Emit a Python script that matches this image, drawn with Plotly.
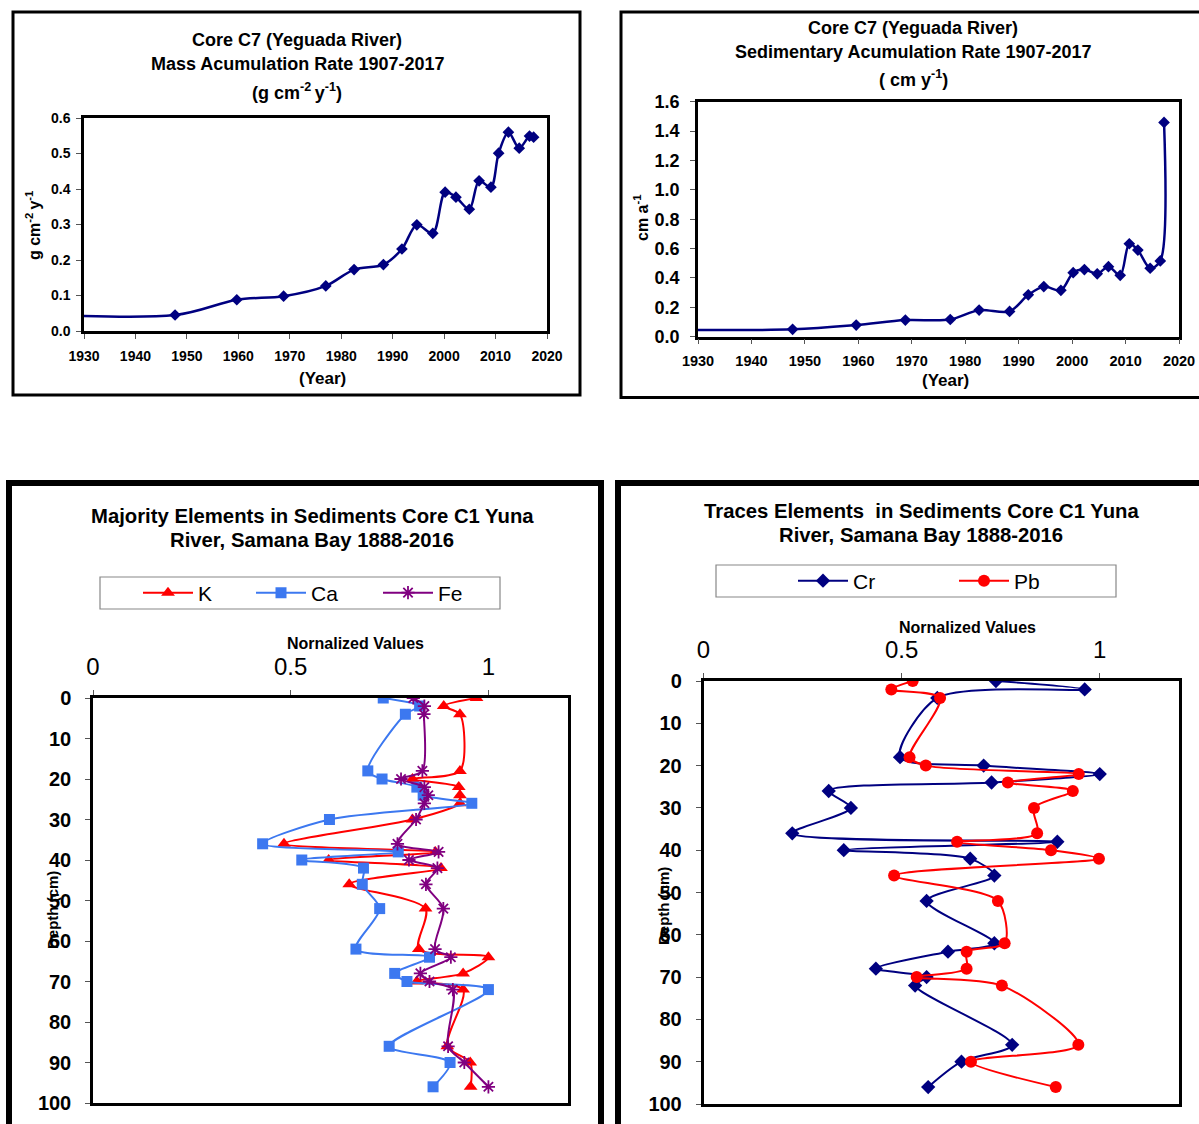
import plotly.graph_objects as go

W, H = 1199, 1124
def px(x): return x / W
def py(y): return 1 - y / H

# ---------------- data ----------------
years_mar = [1907, 1947.7, 1959.7, 1968.8, 1977.0, 1982.5, 1988.2, 1991.8, 1994.7, 1997.8,
             2000.2, 2002.3, 2004.9, 2006.8, 2009.1, 2010.6, 2012.5, 2014.6, 2016.6, 2017.4]
mar = [0.057, 0.045, 0.088, 0.098, 0.127, 0.173, 0.187, 0.231, 0.299, 0.275,
       0.391, 0.377, 0.343, 0.423, 0.405, 0.501, 0.560, 0.515, 0.549, 0.546]

years_sar = [1907, 1947.7, 1959.6, 1968.8, 1977.2, 1982.6, 1988.3, 1991.8, 1994.7, 1997.9,
             2000.2, 2002.3, 2004.7, 2006.8, 2009.0, 2010.7, 2012.3, 2014.6, 2016.5, 2017.2]
sar = [0.052, 0.05, 0.079, 0.113, 0.117, 0.181, 0.172, 0.285, 0.341, 0.316,
       0.436, 0.457, 0.428, 0.477, 0.418, 0.633, 0.590, 0.466, 0.516, 1.459]

depth = [0, 2, 4, 18, 20, 22, 24, 26, 30, 36, 38, 40, 42, 46, 52, 62, 64, 68, 70, 72, 86, 90, 96]
K = [0.970, 0.887, 0.928, 0.928, 0.808, 0.925, 0.928, 0.928, 0.808, 0.483, 0.866, 0.596,
     0.880, 0.648, 0.841, 0.824, 1.0, 0.936, 0.819, 0.936, 0.896, 0.954, 0.955]
Ca = [0.734, 0.826, 0.790, 0.695, 0.731, 0.819, 0.835, 0.958, 0.598, 0.429, 0.772, 0.528,
      0.684, 0.681, 0.725, 0.665, 0.851, 0.763, 0.794, 1.0, 0.749, 0.903, 0.860]
Fe = [0.810, 0.838, 0.837, 0.833, 0.779, 0.838, 0.848, 0.838, 0.817, 0.770, 0.874, 0.799,
      0.871, 0.842, 0.886, 0.865, 0.905, 0.828, 0.851, 0.910, 0.898, 0.939, 1.0]
Cr = [0.738, 0.962, 0.590, 0.496, 0.707, 1.0, 0.727, 0.316, 0.372, 0.224, 0.893, 0.354,
      0.673, 0.734, 0.563, 0.734, 0.617, 0.435, 0.563, 0.534, 0.779, 0.651, 0.567]
Pb = [0.528, 0.474, 0.597, 0.520, 0.561, 0.947, 0.768, 0.932, 0.834, 0.842, 0.640, 0.877,
      0.998, 0.481, 0.743, 0.760, 0.664, 0.664, 0.538, 0.753, 0.946, 0.675, 0.889]

year_ticks = [1930, 1940, 1950, 1960, 1970, 1980, 1990, 2000, 2010, 2020]
depth_ticks = [0, 10, 20, 30, 40, 50, 60, 70, 80, 90, 100]
norm_ticks = [0, 0.5, 1]

FONT = "Liberation Sans, Arial, sans-serif"
NAVY = "#000080"
RED = "#FF0000"
BLUE = "#3C78F0"
PURPLE = "#800080"

fig = go.Figure()

# Panel 1
fig.add_trace(go.Scatter(x=years_mar, y=mar, mode="lines+markers", xaxis="x", yaxis="y",
                         line=dict(color=NAVY, width=2.5, shape="spline", smoothing=0.9),
                         marker=dict(symbol="diamond", size=9, color=NAVY), showlegend=False))
# Panel 2
fig.add_trace(go.Scatter(x=years_sar, y=sar, mode="lines+markers", xaxis="x2", yaxis="y2",
                         line=dict(color=NAVY, width=2.5, shape="spline", smoothing=0.9),
                         marker=dict(symbol="diamond", size=9, color=NAVY), showlegend=False))
# Panel 3
fig.add_trace(go.Scatter(x=K, y=depth, name="K", mode="lines+markers", xaxis="x3", yaxis="y3",
                         line=dict(color=RED, width=2, shape="spline", smoothing=0.8),
                         marker=dict(symbol="triangle-up", size=12, color=RED), legend="legend"))
fig.add_trace(go.Scatter(x=Ca, y=depth, name="Ca", mode="lines+markers", xaxis="x3", yaxis="y3",
                         line=dict(color=BLUE, width=2, shape="spline", smoothing=0.8),
                         marker=dict(symbol="square", size=11, color=BLUE), legend="legend2"))
fig.add_trace(go.Scatter(x=Fe, y=depth, name="Fe", mode="lines+markers", xaxis="x3", yaxis="y3",
                         line=dict(color=PURPLE, width=2, shape="spline", smoothing=0.8),
                         marker=dict(symbol="asterisk-open", size=11, color=PURPLE,
                                     line=dict(color=PURPLE, width=1.8)), legend="legend3"))
# Panel 4
fig.add_trace(go.Scatter(x=Cr, y=depth, name="Cr", mode="lines+markers", xaxis="x4", yaxis="y4",
                         line=dict(color=NAVY, width=2, shape="spline", smoothing=0.8),
                         marker=dict(symbol="diamond", size=11, color=NAVY), legend="legend4"))
fig.add_trace(go.Scatter(x=Pb, y=depth, name="Pb", mode="lines+markers", xaxis="x4", yaxis="y4",
                         line=dict(color=RED, width=2, shape="spline", smoothing=0.8),
                         marker=dict(symbol="circle", size=12, color=RED), legend="legend5"))

bold = dict(family=FONT, color="black", weight="bold")

def axis_common():
    return dict(showgrid=False, zeroline=False, showline=True, linecolor="black", linewidth=2.5,
                mirror=True, ticks="outside", ticklen=5, tickcolor="#555", tickwidth=1,
                automargin=False)

def leg(x, y):
    return dict(orientation="h", x=px(x), y=py(y), xanchor="left", yanchor="middle",
                bgcolor="rgba(0,0,0,0)", borderwidth=0, itemwidth=50,
                font=dict(family=FONT, size=21, color="black"))

layout = dict(
    width=W, height=H, margin=dict(l=0, r=0, t=0, b=0, pad=0, autoexpand=False),
    paper_bgcolor="white", plot_bgcolor="white",
    font=dict(family=FONT, color="black"),
    xaxis=dict(domain=[px(84), px(547)], anchor="y", range=[1930, 2020], tickvals=year_ticks,
               tickfont=dict(size=14, **bold), ticklabelstandoff=5, **axis_common()),
    yaxis=dict(domain=[py(331), py(118)], anchor="x", range=[0, 0.6], dtick=0.1, tickformat=".1f",
               tickfont=dict(size=14, **bold), ticklabelstandoff=3, **axis_common()),
    xaxis2=dict(domain=[px(698), px(1179)], anchor="y2", range=[1930, 2020], tickvals=year_ticks,
                tickfont=dict(size=14.5, **bold), ticklabelstandoff=4, **axis_common()),
    yaxis2=dict(domain=[py(336.7), py(101.7)], anchor="x2", range=[0, 1.6], dtick=0.2, tickformat=".1f",
                tickfont=dict(size=18, **bold), ticklabelstandoff=7, **axis_common()),
    xaxis3=dict(domain=[px(93), px(567.5)], anchor="y3", side="top", range=[0, 1.2], tickvals=norm_ticks,
                ticktext=["0", "0.5", "1"],
                tickfont=dict(family=FONT, size=24, color="black"), ticklabelstandoff=6, **axis_common()),
    yaxis3=dict(domain=[py(1103), py(698)], anchor="x3", range=[100, 0], tickvals=depth_ticks,
                tickfont=dict(size=20, **bold), ticklabelstandoff=10, **axis_common()),
    xaxis4=dict(domain=[px(703.5), px(1179)], anchor="y4", side="top", range=[0, 1.2], tickvals=norm_ticks,
                ticktext=["0", "0.5", "1"],
                tickfont=dict(family=FONT, size=24, color="black"), ticklabelstandoff=6, **axis_common()),
    yaxis4=dict(domain=[py(1104), py(681)], anchor="x4", range=[100, 0], tickvals=depth_ticks,
                tickfont=dict(size=20, **bold), ticklabelstandoff=10, **axis_common()),
    legend=leg(138, 593),
    legend2=leg(251, 593),
    legend3=leg(378, 593),
    legend4=leg(793, 581),
    legend5=leg(954, 581),
)
fig.update_layout(**layout)

# panel frames and legend boxes
shapes = [
    dict(x0=13, y0=12, x1=580, y1=395, lw=3),
    dict(x0=621, y0=12, x1=1206, y1=397.5, lw=3),
    dict(x0=9, y0=483, x1=601, y1=1134, lw=6),
    dict(x0=618, y0=483, x1=1206, y1=1134, lw=6),
]
for s in shapes:
    fig.add_shape(type="rect", xref="paper", yref="paper", x0=px(s["x0"]), x1=px(s["x1"]),
                  y0=py(s["y1"]), y1=py(s["y0"]), line=dict(color="black", width=s["lw"]),
                  layer="below")
for (x0, y0, x1, y1) in [(100, 577, 500, 609), (716, 565, 1116, 597)]:
    fig.add_shape(type="rect", xref="paper", yref="paper", x0=px(x0), x1=px(x1),
                  y0=py(y1), y1=py(y0), line=dict(color="#888", width=1.2), layer="below")

def ann(text, x, y, size, angle=0, weight="bold"):
    fig.add_annotation(text=text, x=px(x), y=py(y), xref="paper", yref="paper", showarrow=False,
                       xanchor="center", yanchor="middle", textangle=angle,
                       font=dict(family=FONT, size=size, color="black", weight=weight))

# Titles
ann("Core C7 (Yeguada River)", 297, 40, 18)
ann("Mass Acumulation Rate 1907-2017", 297, 64, 18)
ann("(g cm<sup>-2 </sup>y<sup>-1</sup>)", 297, 91, 18)
ann("Core C7 (Yeguada River)", 913, 28, 18)
ann("Sedimentary Acumulation Rate 1907-2017", 913, 52, 18)
ann("( cm y<sup>-1</sup>)", 913, 79, 18)
ann("Majority Elements in Sediments Core C1 Yuna", 312, 516, 20.3)
ann("River, Samana Bay 1888-2016", 312, 540, 20.3)
ann("Traces Elements  in Sediments Core C1 Yuna", 921, 511, 20.3)
ann("River, Samana Bay 1888-2016", 921, 535, 20.3)

# Axis titles
ann("(Year)", 322, 378, 17)
ann("(Year)", 945, 380, 17)
ann("g cm<sup>-2 </sup>y<sup>-1</sup>", 33, 226, 16, angle=-90)
ann("cm a<sup>-1</sup>", 641, 218, 16, angle=-90)
ann("Nornalized Values", 355, 643, 16)
ann("Nornalized Values", 967, 627, 16)
ann("Depth (cm)", 52, 910, 15, angle=-90)
ann("Depth (cm)", 663, 906, 15, angle=-90)

fig.write_html("out.html")
